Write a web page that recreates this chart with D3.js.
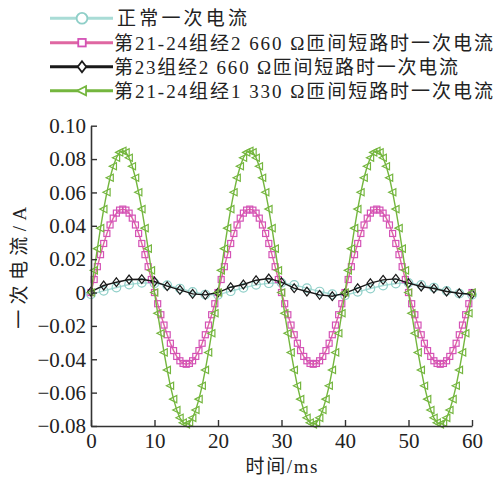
<!DOCTYPE html>
<html>
<head>
<meta charset="utf-8">
<script src="https://cdn.jsdelivr.net/npm/d3@7"></script>
<style>
  html, body { margin: 0; padding: 0; background: #ffffff; }
  svg { display: block; }
  text { font-family: "Liberation Serif", "Times New Roman", Tinos, "Noto Sans CJK SC", serif; fill: #222; }
</style>
</head>
<body>
<svg id="chart" width="493" height="480"></svg>
<script>
// ---------------- data ----------------
const legendLabels = [
  "正常一次电流",
  "第21-24组经2 660 Ω匝间短路时一次电流",
  "第23组经2 660 Ω匝间短路时一次电流",
  "第21-24组经1 330 Ω匝间短路时一次电流"
];
const xTicks = [0, 10, 20, 30, 40, 50, 60];
const yTicks = [-0.08, -0.06, -0.04, -0.02, 0, 0.02, 0.04, 0.06, 0.08, 0.10];
const xTitle = "时间/ms";
const yTitle = "一次电流/A";

// sample times (ms)
const tFine = d3.range(0, 60.001, 0.5);   // pink & green series
const tCoarse = d3.range(0, 60.001, 2);   // cyan & black series

// 正常一次电流 (t = 0,2,...,60)
const normalCurrent = [
  -0.0010, 0.0010, 0.0030, 0.0048, 0.0058, 0.0056, 0.0044, 0.0024, 0.0004, -0.0012,
  -0.0014, 0.0008, 0.0028, 0.0046, 0.0056, 0.0058, 0.0046, 0.0026, 0.0006, -0.0010,
  -0.0016, 0.0004, 0.0024, 0.0042, 0.0054, 0.0058, 0.0046, 0.0030, 0.0010, -0.0006, -0.0014
];
// 第23组经2 660 Ω (t = 0,2,...,60)
const fault23_2660 = [
  0.0006, 0.0042, 0.0062, 0.0078, 0.0080, 0.0066, 0.0038, 0.0016, -0.0008, -0.0014,
  0.0000, 0.0032, 0.0048, 0.0074, 0.0084, 0.0062, 0.0026, 0.0006, -0.0014, -0.0022,
  -0.0004, 0.0026, 0.0056, 0.0076, 0.0082, 0.0056, 0.0036, 0.0024, 0.0006, -0.0004, -0.0010
];
// 第21-24组经2 660 Ω (t = 0,0.5,...,60)
const fault2124_2660 = [
  0.0000, 0.0078, 0.0155, 0.0227, 0.0294, 0.0354, 0.0405, 0.0446, 0.0476, 0.0494,
  0.0500, 0.0494, 0.0476, 0.0446, 0.0405, 0.0354, 0.0294, 0.0227, 0.0155, 0.0078,
  0.0000, -0.0067, -0.0133, -0.0195, -0.0253, -0.0304, -0.0348, -0.0383, -0.0409, -0.0425,
  -0.0430, -0.0425, -0.0409, -0.0383, -0.0348, -0.0304, -0.0253, -0.0195, -0.0133, -0.0067,
  0.0000, 0.0078, 0.0155, 0.0227, 0.0294, 0.0354, 0.0405, 0.0446, 0.0476, 0.0494,
  0.0500, 0.0494, 0.0476, 0.0446, 0.0405, 0.0354, 0.0294, 0.0227, 0.0155, 0.0078,
  0.0000, -0.0067, -0.0133, -0.0195, -0.0253, -0.0304, -0.0348, -0.0383, -0.0409, -0.0425,
  -0.0430, -0.0425, -0.0409, -0.0383, -0.0348, -0.0304, -0.0253, -0.0195, -0.0133, -0.0067,
  0.0000, 0.0078, 0.0155, 0.0227, 0.0294, 0.0354, 0.0405, 0.0446, 0.0476, 0.0494,
  0.0500, 0.0494, 0.0476, 0.0446, 0.0405, 0.0354, 0.0294, 0.0227, 0.0155, 0.0078,
  0.0000, -0.0067, -0.0133, -0.0195, -0.0253, -0.0304, -0.0348, -0.0383, -0.0409, -0.0425,
  -0.0430, -0.0425, -0.0409, -0.0383, -0.0348, -0.0304, -0.0253, -0.0195, -0.0133, -0.0067,
  0.0000
];
// 第21-24组经1 330 Ω (t = 0,0.5,...,60)
const fault2124_1330 = [
  0.0000, 0.0133, 0.0263, 0.0386, 0.0500, 0.0601, 0.0688, 0.0757, 0.0808, 0.0840,
  0.0850, 0.0840, 0.0808, 0.0757, 0.0688, 0.0601, 0.0500, 0.0386, 0.0263, 0.0133,
  0.0000, -0.0124, -0.0244, -0.0359, -0.0464, -0.0559, -0.0639, -0.0704, -0.0751, -0.0780,
  -0.0790, -0.0780, -0.0751, -0.0704, -0.0639, -0.0559, -0.0464, -0.0359, -0.0244, -0.0124,
  0.0000, 0.0133, 0.0263, 0.0386, 0.0500, 0.0601, 0.0688, 0.0757, 0.0808, 0.0840,
  0.0850, 0.0840, 0.0808, 0.0757, 0.0688, 0.0601, 0.0500, 0.0386, 0.0263, 0.0133,
  0.0000, -0.0124, -0.0244, -0.0359, -0.0464, -0.0559, -0.0639, -0.0704, -0.0751, -0.0780,
  -0.0790, -0.0780, -0.0751, -0.0704, -0.0639, -0.0559, -0.0464, -0.0359, -0.0244, -0.0124,
  0.0000, 0.0133, 0.0263, 0.0386, 0.0500, 0.0601, 0.0688, 0.0757, 0.0808, 0.0840,
  0.0850, 0.0840, 0.0808, 0.0757, 0.0688, 0.0601, 0.0500, 0.0386, 0.0263, 0.0133,
  0.0000, -0.0124, -0.0244, -0.0359, -0.0464, -0.0559, -0.0639, -0.0704, -0.0751, -0.0780,
  -0.0790, -0.0780, -0.0751, -0.0704, -0.0639, -0.0559, -0.0464, -0.0359, -0.0244, -0.0124,
  0.0000
];

// ---------------- layout / styles ----------------
const svg = d3.select("#chart");
svg.append("rect").attr("width", 493).attr("height", 480).attr("fill", "#ffffff");

const plot = { left: 91, right: 472, top: 125.7, bottom: 426 };
const x = d3.scaleLinear().domain([0, 60]).range([plot.left, plot.right]);
const y = d3.scaleLinear().domain([-0.08, 0.10]).range([plot.bottom, plot.top]);

const symbols = {
  circle: (g, s) => g.append("circle").attr("r", s),
  square: (g, s) => g.append("rect").attr("x", -s).attr("y", -s).attr("width", 2 * s).attr("height", 2 * s),
  diamond: (g, s) => g.append("path").attr("d", `M0,${-s * 1.3}L${s},0L0,${s * 1.3}L${-s},0Z`),
  triangle: (g, s) => g.append("path").attr("d", `M${-s * 1.1},0L${s * 0.9},${-s}L${s * 0.9},${s}Z`)
};

const series = [
  { name: legendLabels[0], t: tCoarse, v: normalCurrent, line: "#a9dcd6", mark: "#8fcfc8", sym: "circle", size: 4.3, lw: 1.4 },
  { name: legendLabels[1], t: tFine, v: fault2124_2660, line: "#df67a2", mark: "#d452b6", sym: "square", size: 3.0, lw: 1.4 },
  { name: legendLabels[2], t: tCoarse, v: fault23_2660, line: "#1a1a1a", mark: "#1a1a1a", sym: "diamond", size: 3.4, lw: 1.4 },
  { name: legendLabels[3], t: tFine, v: fault2124_1330, line: "#74b63e", mark: "#74b63e", sym: "triangle", size: 3.6, lw: 1.4 }
];

// ---------------- series ----------------
const line = d3.line().x(d => x(d[0])).y(d => y(d[1]));
series.forEach(s => {
  const pts = s.t.map((t, i) => [t, s.v[i]]);
  const g = svg.append("g");
  g.append("path").datum(pts).attr("d", line)
    .attr("fill", "none").attr("stroke", s.line).attr("stroke-width", s.lw);
  pts.forEach(p => {
    const m = g.append("g").attr("transform", `translate(${x(p[0])},${y(p[1])})`);
    symbols[s.sym](m, s.size).attr("fill", "none").attr("stroke", s.mark).attr("stroke-width", 1.2);
  });
});

// ---------------- axes ----------------
const axisColor = "#333";
const fmt = d => d === 0 ? "0" : d3.format(".2f")(d);
const yAxis = svg.append("g").attr("transform", `translate(${plot.left},0)`)
  .call(d3.axisLeft(y).tickValues(yTicks).tickFormat(fmt).tickSizeInner(-6).tickSizeOuter(0).tickPadding(5));
const xAxis = svg.append("g").attr("transform", `translate(0,${plot.bottom})`)
  .call(d3.axisBottom(x).tickValues(xTicks).tickFormat(d3.format("d")).tickSizeInner(-6).tickSizeOuter(0).tickPadding(7));
[yAxis, xAxis].forEach(a => {
  a.attr("font-family", null).attr("font-size", null);
  a.select(".domain").attr("stroke", axisColor).attr("stroke-width", 1.6);
  a.selectAll(".tick line").attr("stroke", axisColor).attr("stroke-width", 1.4);
  a.selectAll(".tick text")
    .style("font-family", "'Liberation Serif', 'Times New Roman', Tinos, serif")
    .style("font-size", "21px").attr("fill", "#222");
});

// axis titles
svg.append("text").text(xTitle)
  .attr("x", (plot.left + plot.right) / 2).attr("y", 473)
  .attr("text-anchor", "middle").style("font-size", "19px")
  .attr("textLength", 72).attr("lengthAdjust", "spacing");
svg.append("text").text(yTitle)
  .attr("transform", `translate(26,${(plot.top + plot.bottom) / 2 - 8}) rotate(-90)`)
  .attr("text-anchor", "middle").style("font-size", "19px")
  .attr("textLength", 122).attr("lengthAdjust", "spacing");

// ---------------- legend ----------------
const legendRows = [18.3, 42.7, 66.7, 90.7];
const legendWidths = [130, 379, 344, 379];
series.forEach((s, i) => {
  const g = svg.append("g").attr("transform", `translate(0,${legendRows[i]})`);
  g.append("line").attr("x1", 50).attr("x2", 113).attr("y1", 0).attr("y2", 0)
    .attr("stroke", s.line).attr("stroke-width", 3);
  const m = g.append("g").attr("transform", "translate(82,0)");
  symbols[s.sym](m, s.size * 1.25).attr("fill", "#ffffff").attr("stroke", s.mark).attr("stroke-width", 1.8);
  g.append("text").text(s.name)
    .attr("x", i === 0 ? 117 : 114).attr("y", 7)
    .style("font-size", "19px")
    .attr("textLength", legendWidths[i]).attr("lengthAdjust", "spacing");
});
</script>
</body>
</html>
